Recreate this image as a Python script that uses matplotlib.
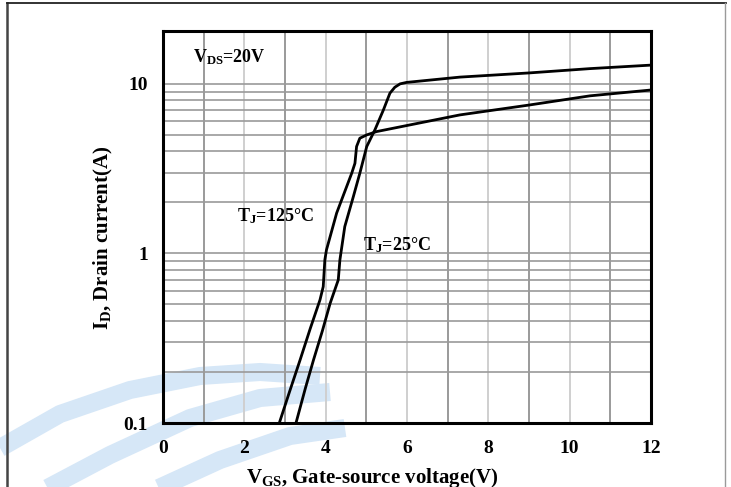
"""Transfer characteristics: drain current against gate-source voltage at two junction temperatures."""

import matplotlib

matplotlib.use("Agg")

import matplotlib.pyplot as plt
from matplotlib.lines import Line2D

plt.rcParams["font.family"] = ["Liberation Serif", "DejaVu Serif"]
plt.rcParams["font.weight"] = "bold"
plt.rcParams["mathtext.default"] = "regular"

# Gate-source voltage (V) and drain current (A), T_J = 25 degC
vgs_25 = [3.27, 3.50, 3.70, 3.92, 4.11, 4.31, 4.35, 4.47, 4.68, 4.84, 5.01, 5.21,
          5.42, 5.58, 5.70, 5.83, 5.99, 7.30, 9.00, 10.50, 12.00]
id_25 = [0.10, 0.16, 0.235, 0.35, 0.508, 0.698, 0.916, 1.44, 2.16, 2.97, 4.27, 5.35,
         7.02, 8.81, 9.55, 10.0, 10.2, 10.96, 11.6, 12.3, 12.9]

# T_J = 125 degC
vgs_125 = [2.86, 3.10, 3.37, 3.62, 3.86, 3.94, 3.98, 4.02, 4.27, 4.64, 4.72, 4.76,
           4.84, 5.01, 5.25, 7.30, 9.00, 10.50, 12.00]
id_125 = [0.10, 0.15, 0.235, 0.36, 0.532, 0.637, 0.916, 1.05, 1.73, 2.97, 3.40, 4.27,
          4.78, 5.00, 5.23, 6.56, 7.5, 8.5, 9.2]

x_ticks = [0, 2, 4, 6, 8, 10, 12]
y_ticks = [0.1, 1, 10]
y_tick_labels = ["0.1", "1", "10"]

LINE_COLOUR = "black"
MAJOR_GRID = "#9a9a9a"
MINOR_GRID = "#cfcfcf"
WAVE_COLOUR = "#d6e7f7"

W, H = 731, 487
fig = plt.figure(figsize=(W / 100, H / 100), dpi=100)


def px(points):
    """Pixel positions (from top-left) to figure fractions."""
    xs = [p[0] / W for p in points]
    ys = [1 - p[1] / H for p in points]
    return xs, ys


# faint wave watermark behind the lower left of the plot
waves = [
    [(0, 448), (60, 414), (130, 390), (200, 376), (260, 372), (320, 376)],
    [(40, 492), (110, 455), (190, 418), (260, 398), (330, 392)],
    [(150, 492), (220, 460), (290, 436), (345, 428)],
]
for wave in waves:
    xs, ys = px(wave)
    fig.add_artist(Line2D(xs, ys, transform=fig.transFigure, color=WAVE_COLOUR, lw=13,
                          solid_capstyle="butt", zorder=0))

ax = fig.add_axes([163 / W, 1 - 423 / H, (651 - 163) / W, (423 - 31) / H])
ax.set_facecolor("none")
ax.set_yscale("log")
ax.set_xlim(0, 12)
ax.set_ylim(0.1, 20.5)

# vertical grid, odd volts a shade darker than even volts
for v in range(1, 12):
    ax.axvline(v, color=MAJOR_GRID if v % 2 else MINOR_GRID, lw=1.4, zorder=1)
# horizontal grid at every 1-2-...-9 step up to 10 A
for decade in (0.1, 1):
    for k in range(1, 10):
        level = decade * k
        if level > 0.1:
            ax.axhline(level, color=MAJOR_GRID, lw=1.2, zorder=1)
ax.axhline(10, color=MAJOR_GRID, lw=1.2, zorder=1)

ax.plot(vgs_25, id_25, color=LINE_COLOUR, lw=2.0, solid_joinstyle="round", zorder=3)
ax.plot(vgs_125, id_125, color=LINE_COLOUR, lw=2.0, solid_joinstyle="round", zorder=3)

ax.set_xticks(x_ticks)
ax.set_xticklabels([str(t) for t in x_ticks])
ax.set_yticks(y_ticks)
ax.set_yticklabels(y_tick_labels)
ax.minorticks_off()
ax.tick_params(length=0, labelsize=14)
ax.tick_params(axis="y", pad=11)
ax.tick_params(axis="x", pad=12)
for spine in ax.spines.values():
    spine.set_linewidth(2.2)
    spine.set_zorder(4)

ax.set_xlabel(r"$V_{GS}$, Gate-source voltage(V)", fontsize=15, fontweight="bold")
ax.xaxis.set_label_coords((372 - 163) / 488, -(478 - 423) / 392)
ax.xaxis.label.set_va("center")
ax.set_ylabel(r"$I_D$, Drain current(A)", fontsize=15, fontweight="bold")
ax.yaxis.set_label_coords((103 - 163) / 488, (423 - 238) / 392)
ax.yaxis.label.set_va("center")

ax.text(0.74, 14.4, r"$V_{DS}$=20V", fontsize=13, fontweight="bold", va="center")
ax.text(1.82, 1.66, r"$T_J$=125°C", fontsize=13, fontweight="bold", va="center")
ax.text(4.92, 1.12, r"$T_J$=25°C", fontsize=13, fontweight="bold", va="center")

# page frame
fig.add_artist(Line2D([7 / W, 7 / W], [0, 1 - 3 / H], transform=fig.transFigure,
                      color="#444444", lw=1.8))
fig.add_artist(Line2D([7 / W, 726 / W], [1 - 3 / H, 1 - 3 / H],
                      transform=fig.transFigure, color="#222222", lw=1.3))
fig.add_artist(Line2D([725 / W, 725 / W], [0, 1 - 3 / H], transform=fig.transFigure,
                      color="#9a9a9a", lw=1.0))

fig.savefig("out.png", dpi=100)
